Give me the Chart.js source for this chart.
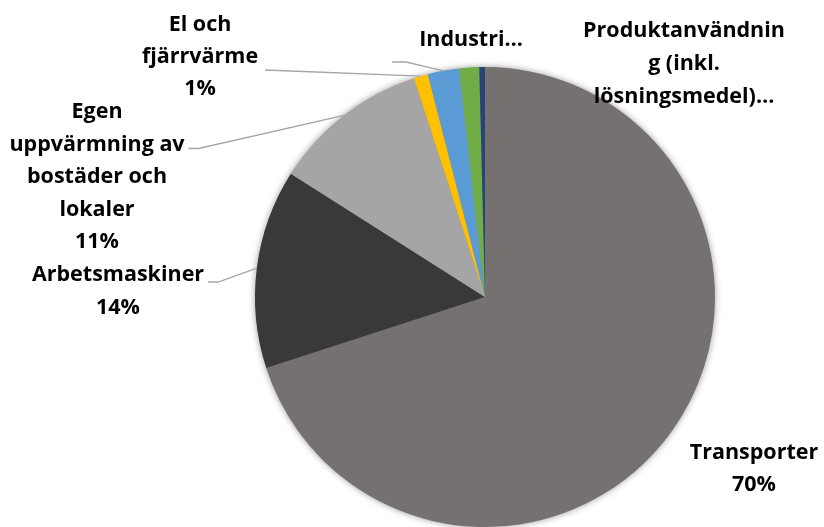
<!DOCTYPE html>
<html lang="sv">
<head>
<meta charset="utf-8">
<title>Utsläpp per sektor</title>
<script src="https://cdn.jsdelivr.net/npm/chart.js@4/dist/chart.umd.min.js"></script>
<style>
  html, body { margin: 0; padding: 0; background: #fff; }
  #wrap { width: 824px; height: 527px; position: relative; }
</style>
</head>
<body>
<div id="wrap"><canvas id="pieChart" width="824" height="527"></canvas></div>
<script>
// ---- data ----
const categories = [
  'Transporter',
  'Arbetsmaskiner',
  'Egen uppvärmning av bostäder och lokaler',
  'El och fjärrvärme',
  'Industri',
  'Produktanvändning (inkl. lösningsmedel)',
  'Övrigt'
];
const shares = [70.0, 14.0, 11.0, 1.0, 2.2, 1.4, 0.4];

// label text as wrapped in the original (null = no label)
const labelWrap = [
  ['Transporter'],
  ['Arbetsmaskiner'],
  ['Egen', 'uppvärmning av', 'bostäder och', 'lokaler'],
  ['El och', 'fjärrvärme'],
  ['Industri…'],
  ['Produktanvändnin', 'g (inkl.', 'lösningsmedel)…'],
  null
];
const showPct = [true, true, true, true, false, false, false];

// ---- styles ----
const sliceColors = ['#767171', '#3B3838', '#A5A5A5', '#FFC000', '#5B9BD5', '#70AD47', '#264478'];
const FONT = 'bold 21.5px "Open Sans", Lato, sans-serif';

// label placement: centre x, first row y, row height, leader row / side / gap / elbow / dy
const labelLayout = [
  { x: 754, y: 453, lh: 32, row: null },
  { x: 118, y: 275, lh: 33, row: 0, side: 'right', gap: 4, elbow: 10, dy: 7 },
  { x: 97,  y: 112, lh: 32.5, row: 1, side: 'right', gap: 4, elbow: 10, dy: 4 },
  { x: 200, y: 25,  lh: 32, row: 1, side: 'right', gap: 7, elbow: 0, dy: 13 },
  { x: 471, y: 40,  lh: 32, row: 0, side: 'left', gap: 27, elbow: 14, dy: 22 },
  { x: 684, y: 31,  lh: 33, row: null },
  null
];

// soft shadow under the whole pie
const pieShadow = {
  id: 'pieShadow',
  beforeDatasetsDraw(chart) {
    const arc = chart.getDatasetMeta(0).data[0];
    if (!arc) return;
    const ctx = chart.ctx;
    ctx.save();
    ctx.shadowColor = 'rgba(0,0,0,0.45)';
    ctx.shadowBlur = 7;
    ctx.fillStyle = '#888';
    ctx.beginPath();
    ctx.arc(arc.x, arc.y, arc.outerRadius - 0.5, 0, Math.PI * 2);
    ctx.fill();
    ctx.restore();
  }
};

// data labels with leader lines
const pieLabels = {
  id: 'pieLabels',
  afterDatasetsDraw(chart) {
    const ctx = chart.ctx;
    const arcs = chart.getDatasetMeta(0).data;
    ctx.save();
    ctx.font = FONT;
    ctx.textAlign = 'center';
    ctx.textBaseline = 'middle';
    arcs.forEach((arc, i) => {
      const lay = labelLayout[i];
      if (!lay || !labelWrap[i]) return;
      const rows = labelWrap[i].slice();
      if (showPct[i]) rows.push(Math.round(shares[i]) + '%');

      // leader line from the label to the middle of the slice edge
      if (lay.row !== null) {
        const mid = (arc.startAngle + arc.endAngle) / 2;
        const ex = arc.x + Math.cos(mid) * arc.outerRadius;
        const ey = arc.y + Math.sin(mid) * arc.outerRadius;
        const w = ctx.measureText(rows[lay.row]).width;
        const dir = lay.side === 'left' ? -1 : 1;
        const sx = lay.x + dir * (w / 2 + lay.gap);
        const sy = lay.y + lay.row * lay.lh + lay.dy;
        ctx.strokeStyle = '#A6A6A6';
        ctx.lineWidth = 1.3;
        ctx.beginPath();
        ctx.moveTo(sx, sy);
        ctx.lineTo(sx + lay.elbow, sy);
        ctx.lineTo(ex, ey);
        ctx.stroke();
      }

      ctx.fillStyle = '#000';
      rows.forEach((t, r) => ctx.fillText(t, lay.x, lay.y + r * lay.lh));
    });
    ctx.restore();
  }
};

new Chart(document.getElementById('pieChart'), {
  type: 'pie',
  data: {
    labels: categories,
    datasets: [{
      data: shares,
      backgroundColor: sliceColors,
      borderWidth: 0
    }]
  },
  options: {
    responsive: false,
    animation: false,
    layout: { padding: { top: 67, bottom: 0, left: 255, right: 109 } },
    plugins: {
      legend: { display: false },
      tooltip: { enabled: false }
    }
  },
  plugins: [pieShadow, pieLabels]
});
</script>
</body>
</html>
